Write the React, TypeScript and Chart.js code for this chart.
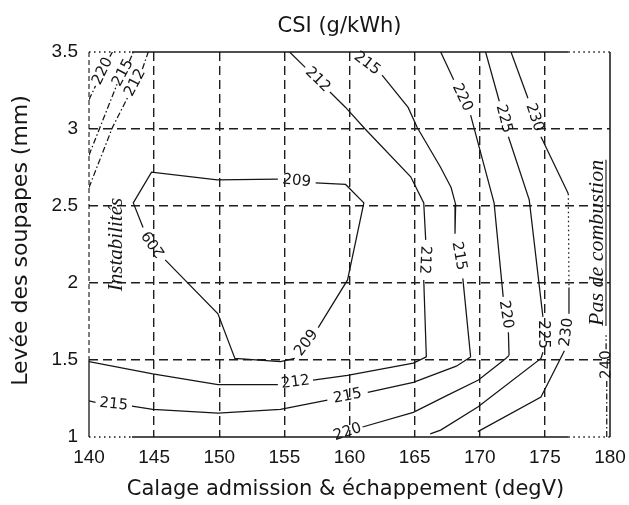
import { useEffect, useRef } from "react";
import { Chart, registerables } from "chart.js";

Chart.register(...registerables);

type Pt = [number, number];
// A path is a list of pieces; the level label sits in each gap between two consecutive pieces.
type Path = Pt[][];

const calageTicks = [140, 145, 150, 155, 160, 165, 170, 175, 180];
const leveeTicks = [1, 1.5, 2, 2.5, 3, 3.5];

// Iso-CSI lines, (calage degV, levée mm)
const csi209Upper: Path = [
  [[145.85, 2.15]],
  [[144.15, 2.36], [143.4, 2.52], [144.8, 2.72], [149.85, 2.67], [154.5, 2.675]],
  [[157.4, 2.65], [159.7, 2.64], [161.1, 2.52], [159.85, 2.02], [157.6, 1.71]],
];
const csi209Lower: Path = [
  [[145.85, 2.15], [149.9, 1.8], [151.2, 1.51], [154.7, 1.49], [155.8, 1.51]],
  [[157.6, 1.71]],
];
const csi212West: Path = [
  [[140, 2.62], [141.8, 3.01], [143.0, 3.21]],
  [[144.1, 3.39], [144.55, 3.5]],
];
const csi212East: Path = [
  [[155.4, 3.5], [156.6, 3.4]],
  [[158.5, 3.24], [159.7, 3.14], [161.2, 3.0], [164.7, 2.69], [165.7, 2.52], [165.85, 2.28]],
  [[165.7, 2.02], [165.9, 1.52]],
];
const csi212South: Path = [
  [[140, 1.49], [144.9, 1.41], [149.9, 1.34], [154.5, 1.34]],
  [[157.2, 1.37], [159.85, 1.4], [164.9, 1.48], [165.9, 1.52]],
];
const csi215West: Path = [
  [[140, 2.83], [142.15, 3.29]],
  [[143.1, 3.44], [143.4, 3.5]],
];
const csi215East: Path = [
  [[160.2, 3.5]],
  [[162.5, 3.35], [164.5, 3.14], [165.2, 3.01], [167.0, 2.75], [167.8, 2.62], [168.15, 2.51], [168.1, 2.32]],
  [[168.7, 2.03], [169.3, 1.52]],
];
const csi215South: Path = [
  [[140, 1.235], [140.5, 1.225]],
  [[143.3, 1.2], [144.9, 1.18], [149.9, 1.155], [154.7, 1.18], [158.3, 1.24]],
  [[161.4, 1.29], [164.9, 1.355], [168.2, 1.46], [169.3, 1.52]],
];
const csi220West: Path = [
  [[140, 3.19], [140.5, 3.28]],
  [[141.6, 3.47], [141.8, 3.5]],
];
const csi220East: Path = [
  [[167.0, 3.5], [168.0, 3.32]],
  [[169.3, 3.09], [169.55, 3.01], [170.5, 2.71], [171.1, 2.52], [171.8, 1.91]],
  [[172.2, 1.68], [172.25, 1.53]],
];
const csi220South: Path = [
  [[158.7, 1.0]],
  [[161.0, 1.065], [164.9, 1.16], [167.5, 1.27], [169.9, 1.37], [172.0, 1.51], [172.25, 1.53]],
];
const csi225: Path = [
  [[170.45, 3.5], [171.5, 3.18]],
  [[172.2, 2.95], [173.8, 2.54], [174.85, 1.78]],
  [[174.85, 1.55], [174.7, 1.51], [169.85, 1.195], [167.0, 1.045], [166.2, 1.02]],
];
const csi230North: Path = [
  [[172.4, 3.5], [173.7, 3.2]],
  [[174.7, 2.95], [176.8, 2.58]],
];
const csi230Faint: Path = [[[176.8, 2.58], [176.85, 1.97]]];
const csi230South: Path = [
  [[169.85, 1.035], [174.7, 1.26], [176.5, 1.56]],
  [[176.85, 1.8], [176.85, 1.97]],
];
const csi240: Path = [
  [[179.75, 1.0], [179.75, 1.37]],
  [[179.7, 1.57], [179.7, 1.66]],
];

type Stroke = "solid" | "dashdot" | "dotted";
const isoLines: [number, Path, Stroke][] = [
  [209, csi209Upper, "solid"],
  [209, csi209Lower, "solid"],
  [212, csi212West, "dashdot"],
  [212, csi212East, "solid"],
  [212, csi212South, "solid"],
  [215, csi215West, "dashdot"],
  [215, csi215East, "solid"],
  [215, csi215South, "solid"],
  [220, csi220West, "dashdot"],
  [220, csi220East, "solid"],
  [220, csi220South, "solid"],
  [225, csi225, "solid"],
  [230, csi230North, "solid"],
  [230, csi230Faint, "dotted"],
  [230, csi230South, "solid"],
  [240, csi240, "dashdot"],
];

const INK = "#151515";
const DASHES: Record<Stroke, number[]> = {
  solid: [],
  dashdot: [6, 2.5, 1.5, 2.5],
  dotted: [1.5, 3],
};

const hideEdges = (lo: number, hi: number) => (ctx: any) =>
  ctx.tick && (ctx.tick.value === lo || ctx.tick.value === hi) ? "rgba(0,0,0,0)" : "#1e1e1e";

// Level labels written along the line, centred in each gap.
const levelLabels = {
  id: "levelLabels",
  afterDatasetsDraw(chart: any) {
    const { ctx, scales } = chart;
    const px = (p: Pt) => ({ x: scales.x.getPixelForValue(p[0]), y: scales.y.getPixelForValue(p[1]) });
    ctx.save();
    ctx.fillStyle = INK;
    ctx.font = '15px "DejaVu Sans"';
    ctx.textAlign = "center";
    ctx.textBaseline = "middle";
    for (const [level, path] of isoLines) {
      for (let i = 0; i + 1 < path.length; i++) {
        const prev = path[i];
        const a = px(prev[prev.length - 1]);
        const b = px(path[i + 1][0]);
        ctx.save();
        ctx.translate((a.x + b.x) / 2, (a.y + b.y) / 2);
        ctx.rotate(Math.atan2(b.y - a.y, b.x - a.x));
        ctx.fillText(String(level), 0, 0);
        ctx.restore();
      }
    }
    ctx.restore();
  },
};

// Plot frame: solid along most of the box, dotted near some corners.
const plotFrame = {
  id: "plotFrame",
  afterDatasetsDraw(chart: any) {
    const { ctx, chartArea: a, scales } = chart;
    const L = a.left, R = a.right, T = a.top, B = a.bottom;
    const xa = scales.x.getPixelForValue(143.3);
    const xb = scales.x.getPixelForValue(176.8);
    const y15 = scales.y.getPixelForValue(1.5);
    const seg = (x0: number, y0: number, x1: number, y1: number, dash: number[], w: number) => {
      ctx.beginPath();
      ctx.setLineDash(dash);
      ctx.lineWidth = w;
      ctx.moveTo(x0, y0);
      ctx.lineTo(x1, y1);
      ctx.stroke();
    };
    ctx.save();
    ctx.strokeStyle = INK;
    const dot = [1.5, 3.5];
    seg(L, T, xa, T, dot, 1.4);
    seg(xa, T, xb, T, [], 1.5);
    seg(xb, T, R, T, dot, 1.4);
    seg(L, B, xa, B, dot, 1.4);
    seg(xa, B, xb, B, [], 1.5);
    seg(xb, B, R, B, dot, 1.4);
    seg(L, T, L, y15, [5, 3], 1.1);
    seg(L, y15, L, B, [], 1.3);
    seg(R, T, R, B, [], 1.5);
    ctx.restore();
  },
};

// Titles and region notes.
const chartText = {
  id: "chartText",
  afterDraw(chart: any) {
    const { ctx, chartArea: a, scales } = chart;
    const cx = (a.left + a.right) / 2;
    const cy = (a.top + a.bottom) / 2;
    ctx.save();
    ctx.fillStyle = INK;
    ctx.strokeStyle = INK;
    ctx.textAlign = "center";
    ctx.textBaseline = "alphabetic";
    ctx.font = '21px "DejaVu Sans"';
    ctx.fillText("CSI (g/kWh)", cx - 10, a.top - 20);
    ctx.fillText("Calage admission & échappement (degV)", cx - 4, a.bottom + 58);

    ctx.save();
    ctx.translate(27, cy - 4);
    ctx.rotate(-Math.PI / 2);
    ctx.font = '22px "DejaVu Sans"';
    ctx.fillText("Levée des soupapes (mm)", 0, 0);
    ctx.restore();

    ctx.save();
    ctx.translate(scales.x.getPixelForValue(142.5), scales.y.getPixelForValue(2.25));
    ctx.rotate(-Math.PI / 2);
    ctx.font = 'italic 21px "Liberation Serif"';
    ctx.fillText("Instabilités", 0, 0);
    ctx.restore();

    ctx.save();
    ctx.translate(scales.x.getPixelForValue(179.5), scales.y.getPixelForValue(2.26));
    ctx.rotate(-Math.PI / 2);
    ctx.font = 'italic 22px "Liberation Serif"';
    const note = "Pas de combustion";
    ctx.fillText(note, 0, 0);
    const w = ctx.measureText(note).width;
    ctx.beginPath();
    ctx.lineWidth = 1.1;
    ctx.moveTo(-w / 2, 2.5);
    ctx.lineTo(w / 2, 2.5);
    ctx.stroke();
    ctx.restore();

    ctx.restore();
  },
};

export default function App() {
  const ref = useRef<HTMLCanvasElement>(null);

  useEffect(() => {
    if (!ref.current) return;
    const datasets: any[] = [];
    for (const [, path, stroke] of isoLines) {
      for (const piece of path) {
        if (piece.length < 2) continue;
        datasets.push({
          data: piece.map(([x, y]) => ({ x, y })),
          showLine: true,
          pointRadius: 0,
          borderColor: INK,
          borderWidth: 1.25,
          borderDash: DASHES[stroke],
          tension: 0,
          fill: false,
        });
      }
    }

    const tickFont = { family: '"Liberation Sans", Arial, sans-serif', size: 19 };

    const chart = new Chart(ref.current, {
      type: "scatter",
      data: { datasets },
      options: {
        animation: false,
        responsive: false,
        maintainAspectRatio: false,
        events: [],
        layout: { padding: { left: 0, right: 19, top: 52, bottom: 0 } },
        plugins: {
          legend: { display: false },
          tooltip: { enabled: false },
          title: { display: false },
        },
        scales: {
          x: {
            type: "linear",
            min: 140,
            max: 180,
            afterBuildTicks: (s: any) => {
              s.ticks = calageTicks.map((value) => ({ value }));
            },
            afterFit: (s: any) => {
              s.height = 68;
              s.paddingLeft = 0;
              s.paddingRight = 0;
            },
            ticks: {
              color: INK,
              font: tickFont,
              padding: 9,
              maxRotation: 0,
              autoSkip: false,
              callback: (v: any) => String(v),
            },
            grid: { color: hideEdges(140, 180), lineWidth: 1.4, drawTicks: false },
            border: { display: false, dash: [9, 5] },
          },
          y: {
            type: "linear",
            min: 1,
            max: 3.5,
            afterBuildTicks: (s: any) => {
              s.ticks = leveeTicks.map((value) => ({ value }));
            },
            afterFit: (s: any) => {
              s.width = 89;
              s.paddingTop = 0;
              s.paddingBottom = 0;
            },
            ticks: {
              color: INK,
              font: tickFont,
              padding: 11,
              autoSkip: false,
              callback: (v: any) => String(v),
            },
            grid: { color: hideEdges(1, 3.5), lineWidth: 1.4, drawTicks: false },
            border: { display: false, dash: [9, 5] },
          },
        },
      } as any,
      plugins: [plotFrame, levelLabels, chartText],
    });
    return () => chart.destroy();
  }, []);

  return (
    <div style={{ position: "fixed", left: 0, top: 0, width: 629, height: 505, background: "#fff" }}>
      <canvas ref={ref} width={629} height={505} style={{ width: 629, height: 505, display: "block" }} />
    </div>
  );
}
